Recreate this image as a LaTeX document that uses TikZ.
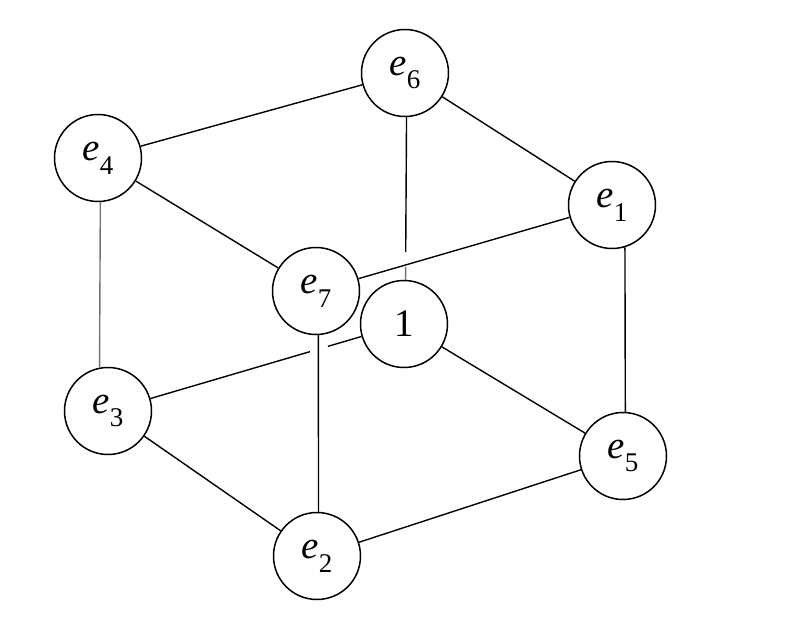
\documentclass[tikz,border=0pt]{standalone}
\usepackage{fontspec}
\setmainfont{Liberation Serif}
\usetikzlibrary{calc}
\newcommand{\lbl}[1]{\textit{e}\raisebox{-0.35em}{\fontsize{27}{28}\selectfont #1}}
\begin{document}
\begin{tikzpicture}[x=1pt,y=-1pt,
  vtx/.style={circle,draw,line width=1.5pt,minimum size=87pt,inner sep=0pt,font=\fontsize{39}{40}\selectfont},
  edge/.style={line width=1.4pt},
  faint/.style={line width=1.4pt,draw=black!55}]
\useasboundingbox (0,0) rectangle (790,644);
\node[vtx] (e6) at (405,73) {\lbl{6}};
\node[vtx] (e4) at (98,158) {\lbl{4}};
\node[vtx] (e1) at (612,205) {\lbl{1}};
\node[vtx] (e7) at (316,291) {\lbl{7}};
\node[vtx] (one) at (404,324) {1};
\node[vtx] (e3) at (108,411) {\lbl{3}};
\node[vtx] (e5) at (623,456) {\lbl{5}};
\node[vtx] (e2) at (317,556) {\lbl{2}};
\coordinate (g1) at ($(e6.-88)!0.83!(one.88)$);
\coordinate (g2) at ($(e6.-88)!0.92!(one.88)$);
\coordinate (g3) at ($(e3)!0.682!(one)$);
\coordinate (g4) at ($(e3)!0.743!(one)$);
\draw[edge] (e4) -- (e6);
\draw[edge] (e6) -- (e1);
\draw[edge] (e6.-88) -- (g1);
\draw[faint] (g2) -- (one.88);
\draw[edge] (e4) -- (e7);
\draw[edge] (e7) -- (e1);
\draw[faint] (e4.-87) -- (e3.101);
\draw[edge] (e7.-87) -- (e2.88);
\draw[edge] (e3) -- (g3);
\draw[edge] (g4) -- (one);
\draw[edge] (one) -- (e5);
\draw[edge] (e1.-73) -- (e5.87);
\draw[edge] (e3) -- (e2);
\draw[edge] (e2) -- (e5);
\end{tikzpicture}
\end{document}
